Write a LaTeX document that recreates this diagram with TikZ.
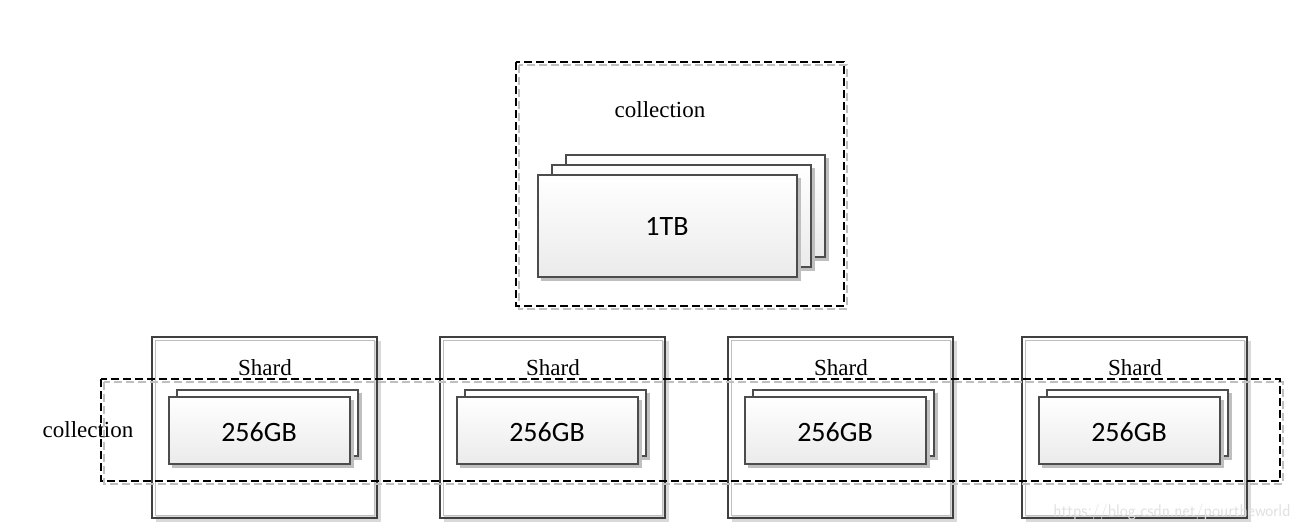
\documentclass[tikz,border=0pt]{standalone}
\usepackage{fontspec}
\setmainfont{Liberation Serif}
\newfontfamily\calib{Carlito}
\begin{document}
\begin{tikzpicture}[x=1pt,y=-1pt,
  num/.style={font=\calib\fontsize{28}{32}\selectfont},
  shadowc/.style={fill=black!25,draw=none},
  coll/.style={draw=black,line width=2.6pt,dash pattern=on 8pt off 4pt},
  collsh/.style={draw=black!25,line width=2.4pt,dash pattern=on 8pt off 4pt},
  shard/.style={draw=black!75,line width=2pt},
  cardd/.style={draw=black!70,line width=2pt},
  lbl/.style={font=\fontsize{23}{26}\selectfont}]
\useasboundingbox (0,0) rectangle (1303,530);
% top collection
\draw[collsh] (519,65) rectangle (847,309);
\draw[coll] (516,62) rectangle (844,306);
\node[lbl] (topcoll) at (660,110) {collection};
\foreach \dx/\dy in {28/-20,14/-10,0/0}{
  \fill[shadowc] (541+\dx,178+\dy) rectangle (801+\dx,281+\dy);
  \draw[cardd,top color=white,bottom color=black!8] (538+\dx,175+\dy) rectangle (797+\dx,277+\dy);
}
\node[num] (tb) at (667,226) {1TB};
% shards
\foreach \x [count=\i] in {152,440,728,1022}{
  \fill[black!15] (\x+4,341) rectangle (\x+229,522);
  \draw[black!25,line width=1pt,fill=white] (\x+3,340) rectangle (\x+222,515);
  \draw[shard] (\x,337) rectangle (\x+225,518);
  \node[lbl] (sh\i) at (\x+113,368) {Shard};
  \fill[shadowc] (\x+28,393) rectangle (\x+210,460);
  \draw[cardd,fill=white] (\x+25,390) rectangle (\x+206,456);
  \fill[shadowc] (\x+20,400) rectangle (\x+202,468);
  \draw[cardd,top color=white,bottom color=black!8] (\x+17,397) rectangle (\x+198,464);
  \node[num] (gb\i) at (\x+107,432) {256GB};
}
% bottom collection
\draw[collsh] (104,382) rectangle (1283,484);
\draw[coll] (101,379) rectangle (1280,481);
\node[lbl] (botcoll) at (88,430) {collection};
\node[font=\fontsize{17}{19}\sffamily\selectfont,text=black!12,anchor=east] (wm) at (1294,512) {https://blog.csdn.net/pourtheworld};
\end{tikzpicture}
\end{document}
